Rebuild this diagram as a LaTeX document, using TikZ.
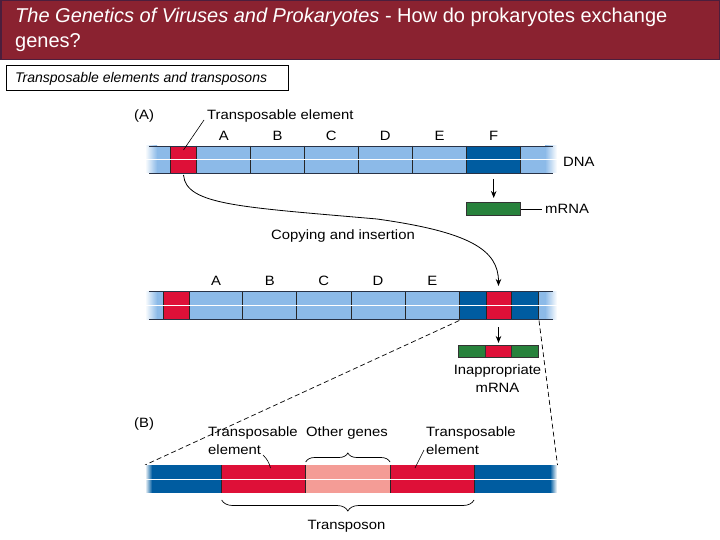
\documentclass[tikz,border=0pt]{standalone}
\usepackage{fontspec}
\setmainfont{Liberation Sans}
\newfontfamily\figfont{Liberation Sans}[FakeStretch=1.1]
\usetikzlibrary{decorations.pathreplacing,arrows.meta}
\definecolor{titlered}{RGB}{138,34,48}
\definecolor{titleborder}{RGB}{75,30,60}
\definecolor{lblue}{RGB}{140,186,232}
\definecolor{dblue}{RGB}{0,92,160}
\definecolor{tred}{RGB}{222,16,56}
\definecolor{tpink}{RGB}{244,156,150}
\definecolor{rgreen}{RGB}{40,130,60}
\definecolor{edgec}{RGB}{40,50,70}
\newcommand\mybar[3]{%
  \shade[left color=white,right color=lblue] (145,#1) rectangle (157,#2);
  \fill[lblue] (156.5,#1) rectangle (545.5,#2);
  \shade[left color=lblue,right color=white] (545,#1) rectangle (557,#2);
  \foreach \a/\b/\c in {#3} {%
    \fill[\c] (\a,#1) rectangle (\b,#2);
    \draw[segline] (\a,#1) -- (\a,#2) (\b,#1) -- (\b,#2);}
  \draw[white, line width=1pt] (145,{(#1+#2)/2}) -- (557,{(#1+#2)/2});
  \draw[edgec, line width=0.6pt] (149,#1) -- (553,#1) (149,#2) -- (553,#2);
}
\begin{document}
\begin{tikzpicture}[x=1pt,y=-1pt,
  lbl/.style={font=\figfont\fontsize{13.5}{15}\selectfont, inner sep=0pt},
  segline/.style={black!85, line width=0.6pt},
  arr/.style={-{Stealth[length=7pt,width=5.5pt]}, line width=0.8pt},
  lead/.style={line width=0.6pt},
  dsh/.style={dash pattern=on 5pt off 3pt, line width=0.7pt},
  brc/.style={decorate, decoration={brace, amplitude=#1}, line width=0.7pt}]
\useasboundingbox (0,0) rectangle (720,540);
\fill[white] (0,0) rectangle (720,540);
% title bar
\fill[titlered] (0,0) rectangle (720,60);
\draw[titleborder, line width=1.5pt] (0.75,0.75) rectangle (719.25,59.5);
\node[anchor=base west, inner sep=0pt, text=white, font=\fontsize{20}{24}\selectfont] (title1) at (15,23)
  {\textit{The Genetics of Viruses and Prokaryotes} - How do prokaryotes exchange};
\node[anchor=base west, inner sep=0pt, text=white, font=\fontsize{20}{24}\selectfont] (title2) at (15,48) {genes?};
% subtitle box
\draw[black, line width=0.8pt] (6.5,65.5) rectangle (288,90);
\node[anchor=base west, inner sep=0pt, font=\itshape\fontsize{14}{16}\selectfont] (sub) at (15,82.5)
  {Transposable elements and transposons};
% ---------- (A) row 1
\node[lbl, anchor=west] (labA) at (134,116.5) {(A)};
\node[lbl, anchor=west] (te1) at (207,116.5) {Transposable element};
\mybar{146}{173}{170.7/196.7/tred, 196.7/250.7/lblue, 250.7/304.3/lblue, 304.3/358.3/lblue, 358.3/412.3/lblue, 412.3/466.7/lblue, 466.7/520.7/dblue}
\foreach \t/\x in {A/223.7, B/277.5, C/331.3, D/385.3, E/439.5, F/493.7}
  \node[lbl] (r1\t) at (\x,136) {\t};
\coordinate (te1a) at (204,120);
\coordinate (te1b) at (183.5,150);
\draw[lead] (te1a) -- (te1b);
\node[lbl, anchor=west] (dna) at (563,161.5) {DNA};
\coordinate (fa) at (493.7,179);
\coordinate (fb) at (493.7,198);
\draw[arr] (fa) -- (fb);
\node[draw=black!80, fill=rgreen, line width=0.6pt, minimum width=54pt, minimum height=12.5pt, inner sep=0pt] (mrna1) at (493.5,209) {};
\node[lbl, anchor=west] (mrnalbl) at (545,208.5) {mRNA};
\coordinate (mlead) at (541.5,209);
\draw[lead] (mrna1.east) -- (mlead);
% copying curve
\coordinate (cs) at (183.5,175);
\coordinate (cm) at (377,219);
\coordinate (ce) at (498.5,286);
\draw[arr] (cs) .. controls (186,205) and (240,207) .. (cm) .. controls (470,232) and (498.5,250) .. (ce);
\node[lbl] (copy) at (343,236) {Copying and insertion};
% ---------- row 2
\mybar{291.5}{319}{163.3/189.3/tred, 189.3/242.7/lblue, 242.7/296.7/lblue, 296.7/351/lblue, 351/405.3/lblue, 405.3/459.3/lblue, 459.3/486/dblue, 486/511.7/tred, 511.7/538.7/dblue}
\foreach \t/\x in {A/216, B/269.7, C/323.8, D/378, E/432.3}
  \node[lbl] (r2\t) at (\x,281) {\t};
\coordinate (ra) at (498.5,327);
\coordinate (rb) at (498.5,343);
\draw[arr] (ra) -- (rb);
\fill[rgreen] (458.3,345) rectangle (485.7,357.7);
\fill[tred] (485.7,345) rectangle (511.7,357.7);
\fill[rgreen] (511.7,345) rectangle (538.3,357.7);
\draw[black!80, line width=0.6pt] (458.3,345) rectangle (538.3,357.7) (485.7,345) -- (485.7,357.7) (511.7,345) -- (511.7,357.7);
\node[lbl] (inap1) at (497.5,371.5) {Inappropriate};
\node[lbl] (inap2) at (497.5,388) {mRNA};
% dashed zoom lines
\coordinate (dl1) at (459.3,320.5);
\coordinate (dl2) at (145,465);
\coordinate (dr1) at (539,320.5);
\coordinate (dr2) at (557.5,465);
\draw[dsh] (dl1) -- (dl2);
\draw[dsh] (dr1) -- (dr2);
% ---------- (B)
\node[lbl, anchor=west] (labB) at (134,424) {(B)};
\shade[left color=white,right color=dblue] (145,465) rectangle (152,492.7);
\shade[left color=dblue,right color=white] (550,465) rectangle (557,492.7);
\fill[dblue] (151.5,465) rectangle (221.7,492.7);
\fill[tred] (221.7,465) rectangle (305.7,492.7);
\fill[tpink] (305.7,465) rectangle (390,492.7);
\fill[tred] (390,465) rectangle (474,492.7);
\fill[dblue] (474,465) rectangle (550.5,492.7);
\draw[segline] (221.7,465) -- (221.7,492.7) (305.7,465) -- (305.7,492.7) (390,465) -- (390,492.7) (474,465) -- (474,492.7);
\draw[white, line width=1pt] (145,479) -- (557,479);
\node[lbl, anchor=west] (tl1) at (208,433.3) {Transposable};
\node[lbl, anchor=west] (tl2) at (208,449.3) {element};
\node[lbl, anchor=west] (tr1) at (426,433.3) {Transposable};
\node[lbl, anchor=west] (tr2) at (426,449.3) {element};
\node[lbl] (og) at (347,433.3) {Other genes};
\coordinate (la) at (263,455);
\coordinate (lb) at (270.5,468);
\draw[lead] (la) to[bend left=15] (lb);
\coordinate (rta) at (424,450);
\coordinate (rtb) at (415,468);
\draw[lead] (rta) -- (rtb);
\coordinate (b1a) at (305.7,462);
\coordinate (b1b) at (390,462);
\draw[brc=9pt] (b1a) -- (b1b);
\coordinate (b2a) at (474,500);
\coordinate (b2b) at (221.7,500);
\draw[brc=11pt] (b2a) -- (b2b);
\node[lbl] (tpos) at (346.5,526) {Transposon};
\end{tikzpicture}
\end{document}
